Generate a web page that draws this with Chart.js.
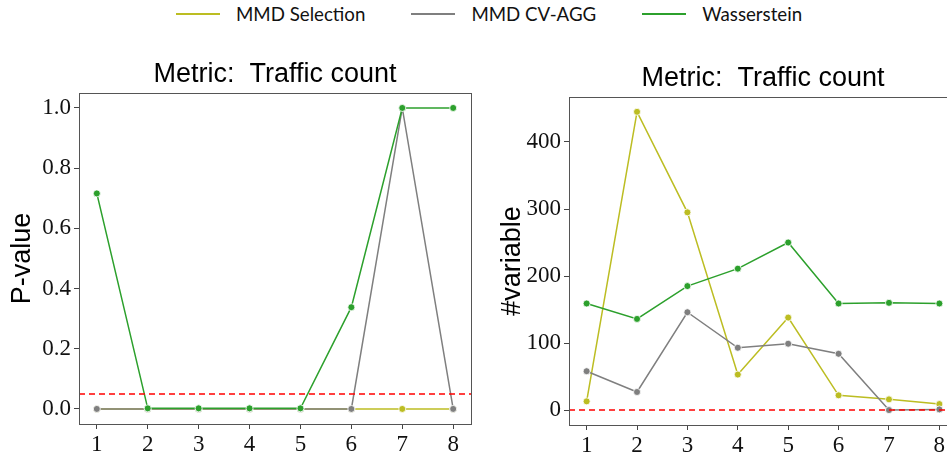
<!DOCTYPE html>
<html>
<head>
<meta charset="utf-8">
<script src="https://cdn.jsdelivr.net/npm/chart.js@4.4.1/dist/chart.umd.min.js"></script>
<style>
  html, body { margin: 0; padding: 0; background: #fff; overflow: hidden; }
  body { width: 947px; height: 453px; position: relative; }
  canvas { position: absolute; top: 0; }
  #legend { position: absolute; left: 176px; top: 3px; display: flex; align-items: center;
            font-family: Lato, "Liberation Sans", sans-serif; font-size: 18.7px; color: #111; }
  .item { display: flex; align-items: center; margin-right: 46px; }
  .swatch { width: 44px; height: 2px; margin-right: 16px; }
</style>
</head>
<body>
<div id="legend"></div>
<canvas id="left" width="480" height="453" style="left:0px"></canvas>
<canvas id="right" width="480" height="453" style="left:490px"></canvas>
<script>
const xValues = [1, 2, 3, 4, 5, 6, 7, 8];
const seriesNames = ["MMD Selection", "MMD CV-AGG", "Wasserstein"];
const seriesColors = ["#bcbd22", "#7f7f7f", "#2ca02c"];

// p-values per run
const pvalSelection = [0, 0, 0, 0, 0, 0, 0, 0];
const pvalCvAgg = [0, 0, 0, 0, 0, 0, 1, 0];
const pvalWasserstein = [0.716, 0.002, 0.002, 0.002, 0.002, 0.338, 1.0, 1.0];

// number of selected variables per run
const varSelection = [13, 445, 295, 53, 138, 22, 16, 9];
const varCvAgg = [58, 27, 146, 93, 99, 84, 0, 1];
const varWasserstein = [159, 136, 185, 211, 250, 159, 160, 159];

const alpha = 0.05;
const pTicks = [0.0, 0.2, 0.4, 0.6, 0.8, 1.0];
const varTicks = [0, 100, 200, 300, 400];

const sans = "'Liberation Sans', Arial, sans-serif";
const serif = "'Liberation Serif', 'Times New Roman', serif";

// legend
const legend = document.getElementById("legend");
seriesNames.forEach((name, i) => {
  const item = document.createElement("div");
  item.className = "item";
  const sw = document.createElement("span");
  sw.className = "swatch";
  sw.style.background = seriesColors[i];
  const txt = document.createElement("span");
  txt.textContent = name;
  item.appendChild(sw);
  item.appendChild(txt);
  legend.appendChild(item);
});

const boxPlugin = {
  id: "box",
  afterDraw(chart) {
    const a = chart.chartArea, ctx = chart.ctx;
    ctx.save();
    ctx.strokeStyle = "#555";
    ctx.lineWidth = 1;
    ctx.strokeRect(Math.round(a.left) + 0.5, Math.round(a.top) + 0.5,
                   Math.round(a.right - a.left), Math.round(a.bottom - a.top));
    ctx.restore();
  }
};

function pad(values) {
  const lo = Math.min(...values), hi = Math.max(...values);
  const m = (hi - lo) * 0.05;
  return [lo - m, hi + m];
}

function makeChart(id, ys, yTicks, yLabel, fmt, padTop, padRight, xHeight) {
  const xr = pad(xValues);
  const yr = pad(ys.flat());
  const sets = ys.map((arr, i) => ({
    label: seriesNames[i],
    data: xValues.map((x, j) => ({ x: x, y: arr[j] })),
    borderColor: seriesColors[i],
    backgroundColor: seriesColors[i],
    borderWidth: 1.5,
    pointRadius: 3.5,
    pointBorderColor: "#fff",
    pointBorderWidth: 0.8,
    order: 3 - i
  }));
  sets.push({
    label: "alpha",
    data: [{ x: xr[0], y: alpha }, { x: xr[1], y: alpha }],
    borderColor: "#ff0000",
    borderWidth: 1.5,
    borderDash: [6, 4],
    pointRadius: 0,
    order: 0
  });
  return new Chart(document.getElementById(id), {
    type: "line",
    data: { datasets: sets },
    plugins: [boxPlugin],
    options: {
      responsive: false,
      animation: false,
      devicePixelRatio: 1,
      layout: { padding: { top: padTop, right: padRight, left: 0, bottom: 0 } },
      plugins: {
        legend: { display: false },
        tooltip: { enabled: false },
        title: {
          display: true,
          text: "Metric:  Traffic count",
          fullSize: false,
          color: "#000",
          font: { family: sans, size: 27, weight: "normal" },
          padding: { top: 0, bottom: 2.5 }
        }
      },
      scales: {
        x: {
          type: "linear",
          min: xr[0],
          max: xr[1],
          afterBuildTicks: s => { s.ticks = xValues.map(v => ({ value: v })); },
          afterFit: s => { s.height = xHeight; },
          ticks: { color: "#111", font: { family: serif, size: 23 }, padding: 2 },
          grid: { drawOnChartArea: false, tickLength: 5, color: "#444" },
          border: { display: false }
        },
        y: {
          min: yr[0],
          max: yr[1],
          afterBuildTicks: s => { s.ticks = yTicks.map(v => ({ value: v })); },
          afterFit: s => { s.width = 79; },
          ticks: { color: "#111", font: { family: serif, size: 23 }, padding: 3, callback: fmt },
          grid: { drawOnChartArea: false, tickLength: 5, color: "#444" },
          border: { display: false },
          title: {
            display: true,
            text: yLabel,
            color: "#000",
            font: { family: sans, size: 27 },
            padding: { top: 6, bottom: 0 }
          }
        }
      }
    }
  });
}

makeChart("left", [pvalSelection, pvalCvAgg, pvalWasserstein], pTicks, "P-value",
  v => v.toFixed(1), 58, 9, 29);
makeChart("right", [varSelection, varCvAgg, varWasserstein], varTicks, "#variable",
  v => String(v), 62, 13, 28);
</script>
</body>
</html>
